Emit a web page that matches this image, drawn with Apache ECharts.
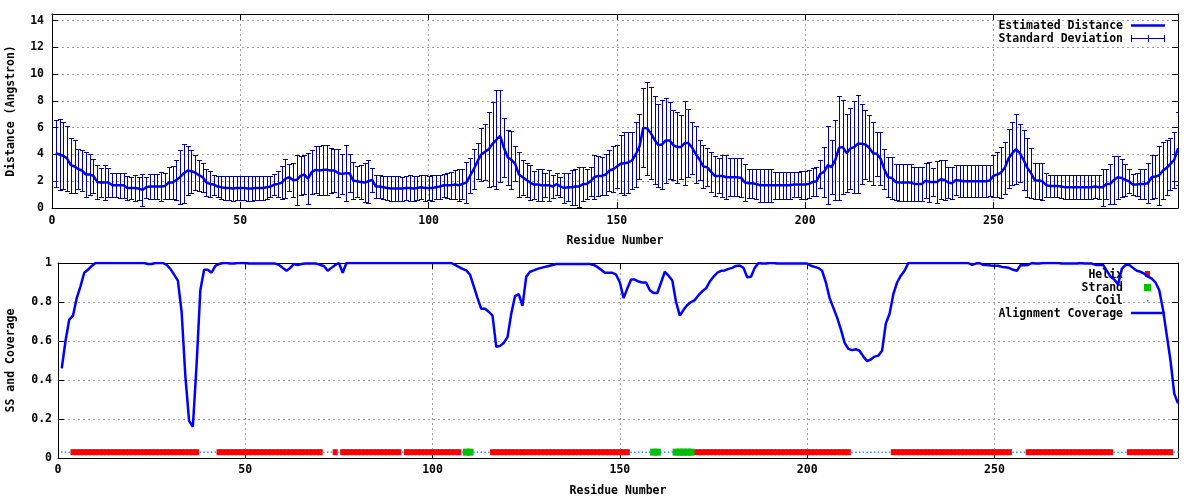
<!DOCTYPE html>
<html>
<head>
<meta charset="utf-8">
<script src="https://cdn.jsdelivr.net/npm/echarts@6/dist/echarts.min.js"></script>
<style>
html,body{margin:0;padding:0;background:#fff;}
#chart{width:1200px;height:500px;}
</style>
</head>
<body>
<div id="chart"></div>
<script>
// ---------------- DATA ----------------
// Estimated distance per residue (residues 1..299)
const distance = [
 4.1,4.0,3.9,3.7,3.2,3.1,2.9,2.8,2.5,2.5,
 2.4,1.95,1.9,1.9,1.9,1.7,1.7,1.7,1.7,1.5,
 1.5,1.5,1.45,1.35,1.55,1.6,1.6,1.6,1.6,1.65,
 1.9,1.9,2.1,2.3,2.6,2.8,2.75,2.65,2.45,2.3,
 1.9,1.8,1.75,1.6,1.55,1.5,1.5,1.45,1.5,1.5,
 1.5,1.45,1.45,1.5,1.5,1.5,1.55,1.6,1.75,1.8,
 1.9,2.2,2.3,2.1,2.1,2.4,2.5,2.2,2.7,2.85,
 2.8,2.85,2.85,2.8,2.8,2.6,2.55,2.6,2.6,2.05,
 2.0,1.95,1.9,2.0,2.1,1.6,1.6,1.55,1.5,1.45,
 1.45,1.45,1.45,1.5,1.5,1.45,1.5,1.55,1.5,1.5,
 1.5,1.55,1.6,1.7,1.7,1.7,1.75,1.7,1.8,1.9,
 2.4,2.9,3.5,4.0,4.2,4.4,4.8,5.1,5.4,4.5,
 3.8,3.6,3.3,2.5,2.3,2.1,1.9,1.75,1.75,1.7,
 1.7,1.7,1.6,1.8,1.6,1.5,1.55,1.55,1.6,1.6,
 1.8,1.8,2.0,2.3,2.4,2.4,2.5,2.8,2.9,3.1,
 3.3,3.35,3.4,3.55,4.0,4.6,6.0,5.95,5.6,5.1,
 4.7,4.75,5.05,5.05,4.7,4.55,4.55,4.85,4.85,4.5,
 4.0,3.6,3.1,3.05,2.7,2.4,2.4,2.4,2.3,2.3,
 2.3,2.3,2.25,1.9,1.85,1.85,1.8,1.7,1.7,1.7,
 1.7,1.7,1.7,1.7,1.7,1.7,1.75,1.75,1.75,1.75,
 1.8,1.95,2.0,2.55,2.7,3.2,3.05,3.6,4.5,4.55,
 4.1,4.45,4.55,4.8,4.8,4.75,4.5,4.1,4.05,3.7,
 2.9,2.3,2.25,1.95,1.9,1.9,1.9,1.9,1.8,1.8,
 1.8,2.05,1.95,1.95,1.95,2.15,2.1,1.9,1.85,2.1,
 2.05,2.0,2.0,2.0,2.0,2.0,2.0,2.0,2.05,2.4,
 2.5,2.65,3.0,3.7,4.1,4.4,4.1,3.6,3.0,2.6,
 2.05,2.05,2.0,1.7,1.65,1.65,1.65,1.6,1.55,1.55,
 1.55,1.55,1.55,1.55,1.55,1.55,1.6,1.55,1.55,1.8,
 1.8,2.1,2.3,2.25,2.1,2.0,1.75,1.75,1.8,1.8,
 1.85,2.3,2.35,2.45,2.8,3.0,3.3,3.6,4.45
];
// Standard deviation per residue
const stdDev = [
 2.5,2.65,2.5,2.45,2.05,1.95,1.5,1.55,1.65,1.5,
 1.25,1.3,1.1,1.3,1.1,0.9,0.9,0.95,0.95,0.9,
 0.85,0.95,0.85,1.2,0.8,0.95,0.95,0.95,1.1,1.0,
 1.2,1.25,1.5,2.0,2.2,1.8,1.6,1.3,1.15,1.1,
 1.0,0.95,0.75,0.8,0.85,0.9,0.9,0.95,0.9,0.9,
 0.9,0.95,0.95,0.9,0.9,0.9,0.85,0.8,0.8,1.0,
 1.25,1.45,1.0,1.3,1.85,1.45,1.45,1.9,1.65,1.75,
 1.85,1.85,1.85,1.7,1.6,1.8,1.5,2.1,1.4,1.4,
 1.15,1.25,1.45,1.6,0.9,0.85,0.85,0.85,0.9,0.95,
 0.95,0.95,0.9,0.9,0.95,0.95,0.9,0.9,0.95,0.9,
 0.95,0.9,0.9,0.85,0.95,1.0,1.1,1.2,1.1,1.55,
 1.3,1.5,1.35,1.95,2.1,2.8,3.15,3.7,3.45,2.2,
 2.05,2.15,1.3,1.65,1.3,1.3,1.3,1.05,1.2,1.2,
 0.9,1.15,0.85,0.85,0.75,1.1,1.05,1.3,1.35,1.5,
 1.3,1.15,1.1,1.65,1.5,1.4,1.5,1.55,1.7,1.6,
 2.15,2.35,2.3,2.15,2.45,2.45,2.95,3.5,3.45,3.3,
 3.1,3.3,3.15,2.85,2.6,2.65,2.4,3.15,2.55,1.95,
 2.1,1.5,1.6,1.4,1.5,1.5,1.3,1.55,1.65,1.4,
 1.4,1.4,1.45,1.4,1.1,1.1,1.15,1.25,1.25,1.25,
 1.25,1.0,1.0,1.0,1.0,1.0,0.95,0.95,1.05,1.05,
 1.05,1.05,1.1,1.05,1.85,2.9,2.0,3.0,3.9,3.5,
 2.9,3.0,3.45,3.65,3.0,2.55,2.45,2.35,1.65,2.0,
 1.5,1.5,1.55,1.35,1.4,1.4,1.4,1.4,1.25,1.25,
 1.25,1.3,1.5,1.05,1.6,1.45,1.5,1.15,1.2,1.1,
 1.2,1.2,1.2,1.2,1.2,1.2,1.2,1.2,1.15,1.55,
 1.7,1.9,1.95,2.2,2.35,2.6,2.15,2.25,2.2,1.85,
 1.35,1.35,1.4,0.9,0.8,0.8,0.8,0.85,0.9,0.9,
 0.9,0.9,0.9,0.9,0.9,0.9,0.85,0.9,1.4,1.15,
 1.5,1.8,1.6,1.4,1.2,0.9,0.8,0.85,1.15,1.15,
 1.5,1.65,1.6,2.2,2.1,2.05,1.95,2.1,2.75
];
// Alignment coverage per residue
const coverage = [
 0.46,0.6,0.71,0.73,0.82,0.88,0.95,0.965,0.985,1.0,
 1,1,1,1,1,1,1,1,1,1,
 1,1,1,0.995,0.995,1,1,1,0.99,0.97,
 0.94,0.91,0.75,0.42,0.19,0.16,0.48,0.86,0.965,0.965,
 0.95,0.985,0.995,1,1,0.997,0.997,1,1,1,
 0.997,0.997,0.997,0.997,0.997,0.997,0.997,0.997,0.99,0.975,
 0.96,0.975,0.995,0.99,0.995,0.997,0.997,0.997,0.997,0.99,
 0.985,0.96,0.975,0.99,1.0,0.95,1.0,1,1,1,
 1,1,1,1,1,1,1,1,1,1,
 1,1,1,1,1,1,1,1,1,1,
 1,1,1,1,1.0,0.99,0.98,0.97,0.962,0.94,
 0.88,0.82,0.765,0.765,0.75,0.73,0.57,0.575,0.59,0.62,
 0.74,0.83,0.84,0.78,0.93,0.955,0.962,0.97,0.975,0.98,
 0.985,0.99,0.995,0.995,0.995,0.995,0.995,0.995,0.995,0.995,
 0.995,0.995,0.99,0.98,0.965,0.95,0.95,0.95,0.94,0.9,
 0.82,0.87,0.915,0.915,0.905,0.9,0.9,0.86,0.846,0.846,
 0.9,0.955,0.935,0.91,0.8,0.73,0.76,0.785,0.8,0.81,
 0.835,0.855,0.87,0.905,0.93,0.95,0.96,0.962,0.97,0.975,
 0.985,0.987,0.975,0.927,0.93,0.975,1.0,0.997,0.997,1.0,
 1.0,0.997,0.997,0.997,0.997,0.997,0.997,0.997,0.997,0.997,
 0.986,0.98,0.974,0.96,0.9,0.82,0.77,0.72,0.66,0.59,
 0.56,0.553,0.558,0.55,0.52,0.497,0.505,0.52,0.525,0.55,
 0.69,0.74,0.84,0.9,0.935,0.96,1.0,1,1,1,
 1,1,1,1,1,1,1,1,1,1,
 1,1,1,0.99,0.997,1.0,0.99,0.99,0.987,0.986,
 0.986,0.98,0.978,0.974,0.965,0.96,0.99,0.988,0.99,1.0,
 0.997,0.997,1,1,1,1,1,0.997,0.997,0.997,
 0.997,0.997,1,0.997,0.997,0.997,0.99,0.99,0.99,0.96,
 0.93,0.915,0.89,0.97,0.99,0.99,0.975,0.96,0.955,0.945,
 0.93,0.92,0.9,0.86,0.76,0.63,0.5,0.33,0.28
];
// Secondary structure segments: [type, firstResidue, lastResidue]
const ssSegments = [
 ['C',1,3],['H',4,37],['C',38,42],['H',43,70],['C',71,73],['H',74,74],['C',75,75],
 ['H',76,91],['C',92,92],['H',93,107],['C',108,108],['E',109,110],['C',111,115],
 ['H',116,152],['C',153,158],['E',159,160],['C',161,164],['E',165,169],['H',170,211],
 ['C',212,222],['H',223,254],['C',255,258],['H',259,281],['C',282,285],['H',286,297],['C',298,299]
];
const ssLevel = 0.03;      // height at which the SS track is plotted
const xTicks = [0, 50, 100, 150, 200, 250];
const distTicks = [0, 2, 4, 6, 8, 10, 12, 14];
const covTicks = [0, 0.2, 0.4, 0.6, 0.8, 1];
const residues = distance.map((_, i) => i + 1);

// ---------------- BUILD ----------------
const FONT = '"DejaVu Sans Mono","Liberation Mono",monospace';
const TXT = {fontFamily: FONT, fontSize: 11.5, fontWeight: 'bold', color: '#000'};
const GRID_LINE = {color: '#a0a0a0', type: [2, 3], width: 1};
const X_MAX = 299;

function ssPoints(type) {
  const out = [];
  ssSegments.forEach(([t, a, b]) => {
    if (t === type) for (let r = a; r <= b; r++) out.push([r, ssLevel]);
  });
  return out;
}
function fmt(ticks) {
  return v => (ticks.some(t => Math.abs(t - v) < 1e-9) ? String(+v.toFixed(3)) : '');
}
function xAx(grid, pos, withLabels) {
  return {
    type: 'value', gridIndex: grid, position: pos, min: 0, max: X_MAX, interval: 50,
    axisLine: {show: true, onZero: false, lineStyle: {color: '#000', width: 1}},
    axisTick: {show: true, inside: true, length: 6, lineStyle: {color: '#000'}},
    axisLabel: withLabels ? Object.assign({}, TXT, {margin: grid === 0 ? 7 : 6, formatter: fmt(xTicks)}) : {show: false},
    splitLine: withLabels ? {show: true, showMinLine: false, showMaxLine: false, lineStyle: GRID_LINE} : {show: false},
    name: withLabels ? 'Residue Number' : '',
    nameLocation: 'middle', nameGap: 27, nameTextStyle: TXT
  };
}
function yAx(grid, pos, withLabels, max, interval, ticks, name, margin, gap) {
  return {
    type: 'value', gridIndex: grid, position: pos, min: 0, max: max, interval: interval,
    axisLine: {show: true, onZero: false, lineStyle: {color: '#000', width: 1}},
    axisTick: {show: true, inside: true, length: 6, lineStyle: {color: '#000'}},
    axisLabel: withLabels ? Object.assign({}, TXT, {margin: margin, formatter: fmt(ticks)}) : {show: false},
    splitLine: withLabels ? {show: true, showMinLine: false, showMaxLine: false, lineStyle: GRID_LINE} : {show: false},
    name: withLabels ? name : '', nameLocation: 'middle', nameRotate: 90, nameGap: gap, nameTextStyle: TXT
  };
}

const errData = residues.map((r, i) => [r, distance[i] - stdDev[i], distance[i] + stdDev[i]]);
const ERR_COLOR = '#0000a0';

const option = {
  animation: false,
  backgroundColor: '#fff',
  grid: [
    {left: 52, top: 14, width: 1126, height: 194, show: false, containLabel: false, outerBoundsMode: 'none'},
    {left: 58, top: 263, width: 1120, height: 195, show: false, containLabel: false, outerBoundsMode: 'none'}
  ],
  xAxis: [xAx(0, 'bottom', true), xAx(0, 'top', false), xAx(1, 'bottom', true), xAx(1, 'top', false)],
  yAxis: [
    yAx(0, 'left', true, 14.5, 2, distTicks, 'Distance (Angstron)', 8, 35),
    yAx(0, 'right', false, 14.5, 2, distTicks, '', 8, 35),
    yAx(1, 'left', true, 1, 0.2, covTicks, 'SS and Coverage', 6, 41),
    yAx(1, 'right', false, 1, 0.2, covTicks, '', 6, 41)
  ],
  series: [
    {
      name: 'Standard Deviation', type: 'custom', xAxisIndex: 0, yAxisIndex: 0, clip: true, z: 2,
      data: errData, encode: {x: 0, y: [1, 2]},
      renderItem: function (params, api) {
        const x = api.value(0);
        const lo = api.coord([x, api.value(1)]);
        const hi = api.coord([x, api.value(2)]);
        const px = Math.round(lo[0]) + 0.5;
        const ly = Math.round(lo[1]) + 0.5, hy = Math.round(hi[1]) + 0.5;
        const st = {stroke: ERR_COLOR, lineWidth: 1};
        return {type: 'group', children: [
          {type: 'line', shape: {x1: px, y1: ly, x2: px, y2: hy}, style: st},
          {type: 'line', shape: {x1: px - 2.5, y1: ly, x2: px + 2.5, y2: ly}, style: st},
          {type: 'line', shape: {x1: px - 2.5, y1: hy, x2: px + 2.5, y2: hy}, style: st}
        ]};
      }
    },
    {
      name: 'Estimated Distance', type: 'line', xAxisIndex: 0, yAxisIndex: 0, z: 3,
      data: residues.map((r, i) => [r, distance[i]]), showSymbol: false, symbol: 'none',
      lineStyle: {color: '#0000ee', width: 2.5}
    },
    {
      name: 'Helix', type: 'scatter', xAxisIndex: 2, yAxisIndex: 2, z: 2,
      data: ssPoints('H'), symbol: 'rect', symbolSize: [5, 6],
      itemStyle: {color: '#ff0000', opacity: 1}
    },
    {
      name: 'Strand', type: 'scatter', xAxisIndex: 2, yAxisIndex: 2, z: 2,
      data: ssPoints('E'), symbol: 'rect', symbolSize: [7, 7], itemStyle: {color: '#00c000', opacity: 1}
    },
    {
      name: 'Coil', type: 'scatter', xAxisIndex: 2, yAxisIndex: 2, z: 2,
      data: ssPoints('C'), symbol: 'rect', symbolSize: [1.5, 1.5], itemStyle: {color: '#1e90ff', opacity: 1}
    },
    {
      name: 'Alignment Coverage', type: 'line', xAxisIndex: 2, yAxisIndex: 2, z: 4,
      data: residues.map((r, i) => [r, coverage[i]]), showSymbol: false, symbol: 'none',
      lineStyle: {color: '#0000ff', width: 2.5}
    }
  ],
  graphic: (function () {
    const F = 'bold 11.5px ' + FONT;
    const t = (s, y) => ({type: 'text', z: 1, x: 1123, y: y,
      style: {text: s, font: F, fill: '#000', align: 'right', textAlign: 'right', verticalAlign: 'middle', textVerticalAlign: 'middle'}});
    const ln = (x1, y1, x2, y2, c, w) => ({type: 'line', z: 1, shape: {x1, y1, x2, y2}, style: {stroke: c, lineWidth: w}});
    return [
      t('Estimated Distance', 26), ln(1131, 25.5, 1165, 25.5, '#0000ee', 2.5),
      t('Standard Deviation', 39),
      ln(1131, 38.5, 1165, 38.5, ERR_COLOR, 1),
      ln(1131.5, 35, 1131.5, 42, ERR_COLOR, 1), ln(1148.5, 35, 1148.5, 42, ERR_COLOR, 1), ln(1164.5, 35, 1164.5, 42, ERR_COLOR, 1),
      t('Helix', 275), {type: 'rect', z: 1, shape: {x: 1145, y: 271, width: 5, height: 6}, style: {fill: '#ff0000'}},
      t('Strand', 288), {type: 'rect', z: 1, shape: {x: 1144, y: 284, width: 7, height: 7}, style: {fill: '#00c000'}},
      t('Coil', 301), {type: 'rect', z: 1, shape: {x: 1147, y: 300, width: 1.5, height: 1.5}, style: {fill: '#1e90ff'}},
      t('Alignment Coverage', 314), ln(1131, 313, 1165, 313, '#0000ff', 2.5)
    ];
  })()
};

const chart = echarts.init(document.getElementById('chart'), null, {renderer: 'canvas'});
chart.setOption(option);
</script>
</body>
</html>
